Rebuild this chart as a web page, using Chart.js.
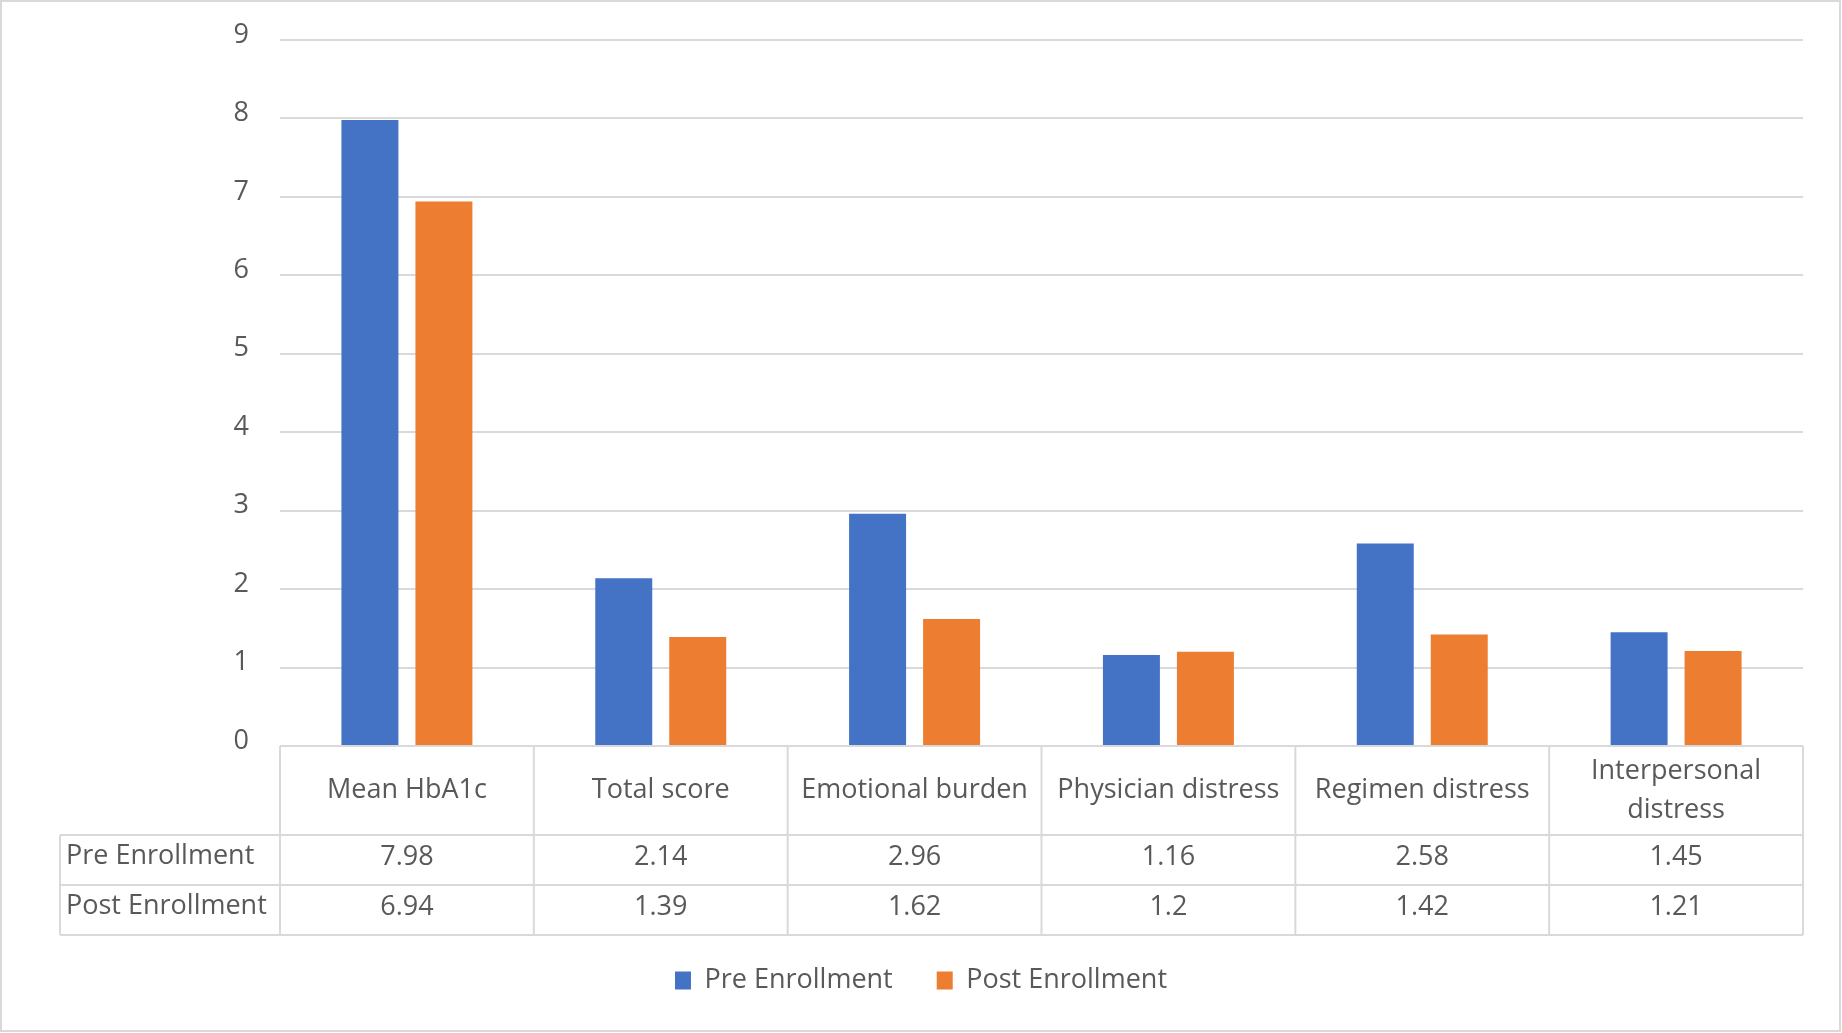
<!DOCTYPE html>
<html>
<head>
<meta charset="utf-8">
<script src="https://cdn.jsdelivr.net/npm/chart.js@4.4.1/dist/chart.umd.min.js"></script>
<style>
  html, body { margin: 0; padding: 0; background: #ffffff; }
  #c { display: block; }
</style>
</head>
<body>
<canvas id="c" width="1842" height="1033"></canvas>
<script>
// Category names (multi-line where the table header wraps)
const categories = [
  ['Mean HbA1c'],
  ['Total score'],
  ['Emotional burden'],
  ['Physician distress'],
  ['Regimen distress'],
  ['Interpersonal', 'distress']
];
const seriesNames = ['Pre Enrollment', 'Post Enrollment'];
const preEnrollment = [7.98, 2.14, 2.96, 1.16, 2.58, 1.45];
const postEnrollment = [6.94, 1.39, 1.62, 1.2, 1.42, 1.21];
const yTickValues = [0, 1, 2, 3, 4, 5, 6, 7, 8, 9];

const seriesColors = ['#4472C4', '#ED7D31'];
const textColor = '#595959';
const lineColor = '#D9D9D9';
const fontFamily = "'Open Sans', 'DejaVu Sans', sans-serif";
const fontSize = 27;

// Data table drawn under the plot, aligned with the category scale
const dataTablePlugin = {
  id: 'dataTable',
  beforeDraw(chart) {
    const ctx = chart.ctx;
    ctx.save();
    ctx.fillStyle = '#ffffff';
    ctx.fillRect(0, 0, chart.width, chart.height);
    ctx.strokeStyle = '#D9D9D9';
    ctx.lineWidth = 2;
    ctx.strokeRect(1, 1, chart.width - 3, chart.height - 3);
    ctx.restore();
  },
  afterDraw(chart) {
    const ctx = chart.ctx;
    const xs = chart.scales.x;
    const area = chart.chartArea;
    const n = categories.length;
    const colW = (xs.right - xs.left) / n;
    const top = area.bottom;
    const headerBottom = top + 89;
    const rowH = 50;
    const rowLeft = 60;
    const rows = [preEnrollment, postEnrollment];
    const tableBottom = headerBottom + rowH * rows.length;

    ctx.save();
    ctx.strokeStyle = lineColor;
    ctx.lineWidth = 2;
    ctx.beginPath();
    // horizontal lines
    ctx.moveTo(xs.left, top); ctx.lineTo(xs.right, top);
    for (let r = 0; r <= rows.length; r++) {
      const y = headerBottom + r * rowH;
      ctx.moveTo(rowLeft, y); ctx.lineTo(xs.right, y);
    }
    // vertical lines
    ctx.moveTo(rowLeft, headerBottom); ctx.lineTo(rowLeft, tableBottom);
    for (let i = 0; i <= n; i++) {
      const x = xs.left + i * colW;
      ctx.moveTo(x, top); ctx.lineTo(x, tableBottom);
    }
    ctx.stroke();

    ctx.fillStyle = textColor;
    ctx.font = fontSize + 'px ' + fontFamily;
    ctx.textBaseline = 'middle';
    ctx.textAlign = 'center';
    // header labels
    const lineH = 39;
    categories.forEach((lines, i) => {
      const cx = xs.getPixelForValue(i);
      const cy = (top + headerBottom) / 2;
      const y0 = cy - (lines.length - 1) * lineH / 2;
      lines.forEach((t, k) => ctx.fillText(t, cx, y0 + k * lineH));
    });
    // values
    rows.forEach((vals, r) => {
      const cy = headerBottom + r * rowH + rowH / 2 - 3;
      vals.forEach((v, i) => ctx.fillText(String(v), xs.getPixelForValue(i), cy));
    });
    // row headers
    ctx.textAlign = 'left';
    seriesNames.forEach((name, r) => {
      const cy = headerBottom + r * rowH + rowH / 2 - 4;
      ctx.fillText(name, rowLeft + 6, cy);
    });
    ctx.restore();
  }
};

new Chart(document.getElementById('c'), {
  type: 'bar',
  data: {
    labels: categories.map(c => c.join(' ')),
    datasets: [
      { label: seriesNames[0], data: preEnrollment, backgroundColor: seriesColors[0] },
      { label: seriesNames[1], data: postEnrollment, backgroundColor: seriesColors[1] }
    ]
  },
  options: {
    responsive: false,
    animation: false,
    devicePixelRatio: 1,
    layout: { padding: { top: 40, right: 0, bottom: 29, left: 0 } },
    datasets: {
      bar: { categoryPercentage: 0.583, barPercentage: 0.77 }
    },
    scales: {
      x: {
        grid: { display: false, drawTicks: false },
        border: { display: false },
        ticks: { display: false },
        afterFit(scale) { scale.height = 177; }
      },
      y: {
        min: 0,
        max: 9,
        afterBuildTicks(scale) { scale.ticks = yTickValues.map(v => ({ value: v })); },
        grid: { color: lineColor, lineWidth: 2, drawTicks: false },
        border: { display: false },
        ticks: {
          color: textColor,
          padding: 31,
          labelOffset: -5,
          font: { family: fontFamily, size: fontSize }
        },
        afterFit(scale) {
          scale.width = 280;
          // the label gap is horizontal only
          scale.paddingTop = 0;
          scale.paddingBottom = 0;
        }
      },
      // empty right margin beside the plot
      yRight: {
        type: 'linear',
        position: 'right',
        display: true,
        grid: { display: false, drawTicks: false },
        border: { display: false },
        ticks: { display: false },
        afterFit(scale) { scale.width = 39; }
      }
    },
    plugins: {
      tooltip: { enabled: false },
      legend: {
        position: 'bottom',
        labels: {
          color: textColor,
          font: { family: fontFamily, size: fontSize },
          boxWidth: 16,
          boxHeight: 18,
          padding: 44
        }
      }
    }
  },
  plugins: [dataTablePlugin]
});
</script>
</body>
</html>
